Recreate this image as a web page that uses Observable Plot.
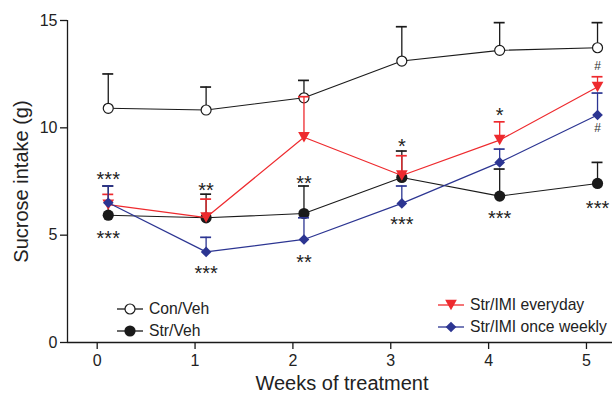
<!DOCTYPE html>
<html><head><meta charset="utf-8">
<script src="https://cdn.jsdelivr.net/npm/d3@7"></script>
<script src="https://cdn.jsdelivr.net/npm/@observablehq/plot@0.6"></script>
<style>
body{margin:0;background:#fff;font-family:"Liberation Sans",Arial,Helvetica,sans-serif;}
#wrap{position:relative;width:612px;height:395px;overflow:hidden;}
.leg{position:absolute;font-size:15.7px;color:#222;display:flex;align-items:center;white-space:nowrap;height:18px;}
.leg svg{margin-right:6px;}
</style></head><body><div id="wrap"></div>
<script>
// ---- data ----
const weeks = [0, 1, 2, 3, 4, 5];
const seriesNames = ["Con/Veh", "Str/Veh", "Str/IMI everyday", "Str/IMI once weekly"];
const conVehMean   = [10.91, 10.83, 11.40, 13.11, 13.61, 13.73];
const conVehUpper  = [12.51, 11.90, 12.21, 14.71, 14.90, 14.90];
const strVehMean   = [5.93, 5.81, 6.01, 7.69, 6.82, 7.41];
const strVehUpper  = [7.29, 6.91, 7.29, 8.92, 8.08, 8.39];
const everydayMean = [6.42, 5.82, 9.56, 7.78, 9.43, 11.90];
const everydayUpper= [6.90, 6.68, 11.45, 8.70, 10.28, 12.38];
const weeklyMean   = [6.51, 4.22, 4.80, 6.48, 8.39, 10.60];
const weeklyUpper  = [7.29, 4.90, 5.81, 7.29, 9.01, 11.62];
const annotWeeks = [0, 0, 1, 1, 2, 2, 3, 3, 4, 4, 5, 5, 5];
const annotY     = [7.80, 5.05, 7.33, 3.42, 7.65, 3.96, 9.35, 5.73, 10.80, 6.01, 12.88, 9.98, 6.48];
const annotText  = ["***", "***", "**", "***", "**", "**", "*", "***", "*", "***", "#", "#", "***"];
const xTicks = [0, 1, 2, 3, 4, 5];
const yTicks = [0, 5, 10, 15];
const xLabel = "Weeks of treatment";
const yLabel = "Sucrose intake (g)";

// ---- styling ----
const RED = "#ee2a2e", BLUE = "#2c3592", BLACK = "#1a1a1a";
const xOffset = 0.113, cap = 0.056;
const xDomain = [-0.3035, 5.266];
const triDown = {draw(ctx, size) {
  const r = Math.sqrt(size / Math.PI);
  const a = 1.17 * r, h = 1.06 * r;
  ctx.moveTo(-a, -h); ctx.lineTo(a, -h); ctx.lineTo(0, h); ctx.closePath();
}};
const styles = [
  {mean: conVehMean, upper: conVehUpper, color: BLACK, symbol: "circle", fill: "white", stroke: BLACK, r: 5, lw: 1.1},
  {mean: strVehMean, upper: strVehUpper, color: BLACK, symbol: "circle", fill: BLACK, stroke: "none", r: 5.6, lw: 1.1},
  {mean: everydayMean, upper: everydayUpper, color: RED, symbol: triDown, fill: RED, stroke: "none", r: 5, lw: 1.2},
  {mean: weeklyMean, upper: weeklyUpper, color: BLUE, symbol: "diamond2", fill: BLUE, stroke: "none", r: 4.8, lw: 1.2}
];

const marks = [
  Plot.ruleY([0], {stroke: BLACK, strokeWidth: 1.3}),
  Plot.ruleX([xDomain[0]], {y1: yTicks[0], y2: yTicks[yTicks.length - 1], stroke: BLACK, strokeWidth: 1.3}),
  Plot.axisY({ticks: yTicks, tickSize: 7, tickPadding: 3, fontSize: 16, label: null, tickFormat: d => String(d), stroke: BLACK, strokeWidth: 1.3}),
  Plot.axisX({ticks: xTicks, tickSize: 7, tickPadding: 5, fontSize: 16, label: null, tickFormat: d => String(d), stroke: BLACK, strokeWidth: 1.3}),
  Plot.text([yLabel], {frameAnchor: "left", textAnchor: "middle", lineAnchor: "middle", dx: -46, rotate: -90, fontSize: 20, fill: "#222"}),
  Plot.text([xLabel], {frameAnchor: "bottom", textAnchor: "middle", lineAnchor: "bottom", dx: 2, dy: 47, fontSize: 20, fill: "#222"})
];

styles.forEach((s, i) => {
  const rows = weeks.map((w, j) => ({series: seriesNames[i], x: w + xOffset, y: s.mean[j], upper: s.upper[j]}));
  marks.push(
    Plot.ruleX(rows, {x: "x", y1: "y", y2: "upper", stroke: s.color, strokeWidth: 1.3}),
    Plot.ruleY(rows, {y: "upper", x1: d => d.x - cap, x2: d => d.x + cap, stroke: s.color, strokeWidth: 1.7}),
    Plot.line(rows, {x: "x", y: "y", stroke: s.color, strokeWidth: s.lw}),
    Plot.dot(rows, {x: "x", y: "y", symbol: s.symbol, r: s.r, fill: s.fill, stroke: s.stroke, strokeWidth: 1.2})
  );
});

const annots = annotText.map((t, k) => ({x: annotWeeks[k] + xOffset, y: annotY[k], t}));
marks.push(
  Plot.text(annots.filter(d => d.t !== "#"), {x: "x", y: "y", text: "t", fontSize: 20, dy: 5, fill: "#222", style: "letter-spacing:0.5px"}),
  Plot.text(annots.filter(d => d.t === "#"), {x: "x", y: "y", text: "t", fontSize: 12, dy: 0, fill: "#333"})
);

const chart = Plot.plot({
  width: 612, height: 395,
  marginLeft: 67, marginRight: 0, marginTop: 20, marginBottom: 53,
  x: {domain: xDomain},
  y: {domain: [yTicks[0], yTicks[yTicks.length - 1]]},
  style: {fontFamily: '"Liberation Sans", Arial, sans-serif', color: "#222", overflow: "visible"},
  marks
});
const wrap = document.getElementById("wrap");
wrap.appendChild(chart);

// ---- legend (HTML overlay) ----
function legendItem(i, left, cy) {
  const s = styles[i];
  const div = document.createElement("div");
  div.className = "leg";
  div.style.left = left + "px";
  div.style.top = (cy - 9) + "px";
  const sym = d3.create("svg").attr("width", 26).attr("height", 18);
  sym.append("line").attr("x1", 0).attr("x2", 26).attr("y1", 9).attr("y2", 9).attr("stroke", s.color).attr("stroke-width", 1.3);
  const symType = s.symbol === "circle" ? d3.symbolCircle : s.symbol === "diamond2" ? d3.symbolDiamond2 : triDown;
  sym.append("path").attr("transform", "translate(13,9)")
    .attr("d", d3.symbol(symType, Math.PI * s.r * s.r)())
    .attr("fill", s.fill).attr("stroke", s.stroke).attr("stroke-width", 1.2);
  div.appendChild(sym.node());
  const span = document.createElement("span");
  span.textContent = seriesNames[i];
  div.appendChild(span);
  wrap.appendChild(div);
}
legendItem(0, 117, 309);
legendItem(1, 117, 331);
legendItem(2, 438, 305);
legendItem(3, 438, 327);
</script></body></html>
